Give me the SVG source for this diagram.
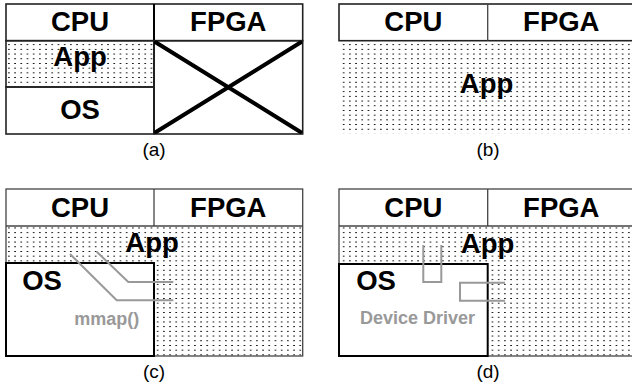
<svg xmlns="http://www.w3.org/2000/svg" width="632" height="390" viewBox="0 0 632 390">
  <defs>
    <pattern id="dots" patternUnits="userSpaceOnUse" width="6.2" height="4.7">
      <rect x="2" y="1.5" width="1.2" height="1.2" fill="#111" shape-rendering="crispEdges"/>
    </pattern>
    <style>
      .lbl { font-family: "Liberation Sans", Arial, sans-serif; font-weight: bold; font-size: 27.5px; fill: #000; text-anchor: middle; }
      .sub { font-family: "Liberation Sans", Arial, sans-serif; font-size: 19px; fill: #000; text-anchor: middle; }
      .note { font-family: "Liberation Sans", Arial, sans-serif; font-weight: bold; font-size: 18px; fill: #999; text-anchor: middle; }
      .box { fill: #fff; stroke: #222; stroke-width: 1.6; }
      .thin { fill: none; stroke: #444; stroke-width: 1.3; }
      .dotted { fill: url(#dots); stroke: none; }
      .heavy { fill: none; stroke: #000; stroke-width: 2; }
      .wire { fill: none; stroke: #999; stroke-width: 2; }
      .cross { stroke: #000; stroke-width: 4; stroke-linecap: round; }
    </style>
  </defs>
  <rect width="632" height="390" fill="#fff"/>

  <!-- (a) CPU only: App on OS, FPGA unused -->
  <g id="panel-a">
    <rect class="box" x="6" y="4" width="296.7" height="36.7"/>
    <line class="heavy" x1="154" y1="4" x2="154" y2="134"/>
    <rect class="dotted" x="6" y="40.7" width="148" height="46.3"/>
    <rect class="box" x="6" y="87" width="148" height="47" style="fill:none"/>
    <rect class="box" x="6" y="40.7" width="148" height="46.3" style="fill:none"/>
    <rect class="box" x="154" y="40.7" width="148.7" height="93.3" style="fill:none"/>
    <line class="cross" x1="156" y1="42.5" x2="300.5" y2="132"/>
    <line class="cross" x1="156" y1="132" x2="300.5" y2="42.5"/>
    <text class="lbl" x="80" y="30.5">CPU</text>
    <text class="lbl" x="228.3" y="30.5">FPGA</text>
    <text class="lbl" x="80" y="65.5">App</text>
    <text class="lbl" x="80" y="119">OS</text>
    <text class="sub" x="154" y="156">(a)</text>
  </g>

  <!-- (b) bare-metal App spanning CPU and FPGA -->
  <g id="panel-b">
    <rect class="dotted" x="339" y="40.7" width="296" height="92.5"/>
    <rect class="box" x="339" y="4" width="296" height="36.7"/>
    <line class="thin" x1="487.7" y1="4" x2="487.7" y2="40.7"/>
    <text class="lbl" x="413.3" y="30.5">CPU</text>
    <text class="lbl" x="561.3" y="30.5">FPGA</text>
    <text class="lbl" x="486.5" y="92.5">App</text>
    <text class="sub" x="488" y="156">(b)</text>
  </g>

  <!-- (c) App reaches FPGA through mmap() -->
  <g id="panel-c">
    <rect class="dotted" x="6" y="226" width="148" height="37"/>
    <rect class="dotted" x="154" y="226" width="148.7" height="130"/>
    <rect class="thin" x="6" y="189" width="296.7" height="167"/>
    <line class="thin" x1="6" y1="226" x2="302.7" y2="226"/>
    <line class="thin" x1="154" y1="189" x2="154" y2="226"/>
    <rect class="heavy" x="6" y="263" width="148" height="93"/>
    <text class="lbl" x="80" y="216.7">CPU</text>
    <text class="lbl" x="228.3" y="216.7">FPGA</text>
    <text class="lbl" x="152" y="251.7">App</text>
    <text class="lbl" x="42" y="290">OS</text>
    <text class="note" x="106.7" y="325">mmap()</text>
    <text class="sub" x="154" y="378">(c)</text>
  </g>

  <!-- (d) App reaches FPGA through a device driver -->
  <g id="panel-d">
    <rect class="dotted" x="339" y="226" width="148.7" height="38"/>
    <rect class="dotted" x="487.7" y="226" width="148" height="130"/>
    <rect class="thin" x="339" y="189" width="296" height="167"/>
    <line class="thin" x1="339" y1="226" x2="635" y2="226"/>
    <line class="thin" x1="487.7" y1="189" x2="487.7" y2="226"/>
    <rect class="heavy" x="339" y="264" width="148.7" height="92"/>
    <text class="lbl" x="413.3" y="216.7">CPU</text>
    <text class="lbl" x="561.3" y="216.7">FPGA</text>
    <text class="lbl" x="487.5" y="253">App</text>
    <text class="lbl" x="376" y="290">OS</text>
    <text class="note" x="417.5" y="324.3">Device Driver</text>
    <text class="sub" x="488" y="378">(d)</text>
  </g>

  <!-- access paths -->
  <g id="connectors">
    <polyline class="wire" points="70,254 116.7,300.3 173.3,300.3"/>
    <polyline class="wire" points="96.7,251.7 128.3,281.9 173.3,281.9"/>
    <polyline class="wire" points="423.3,245 423.3,282 441.3,282 441.3,245"/>
    <polyline class="wire" points="505,282.7 460,282.7 460,300.7 505,300.7"/>
  </g>
</svg>
